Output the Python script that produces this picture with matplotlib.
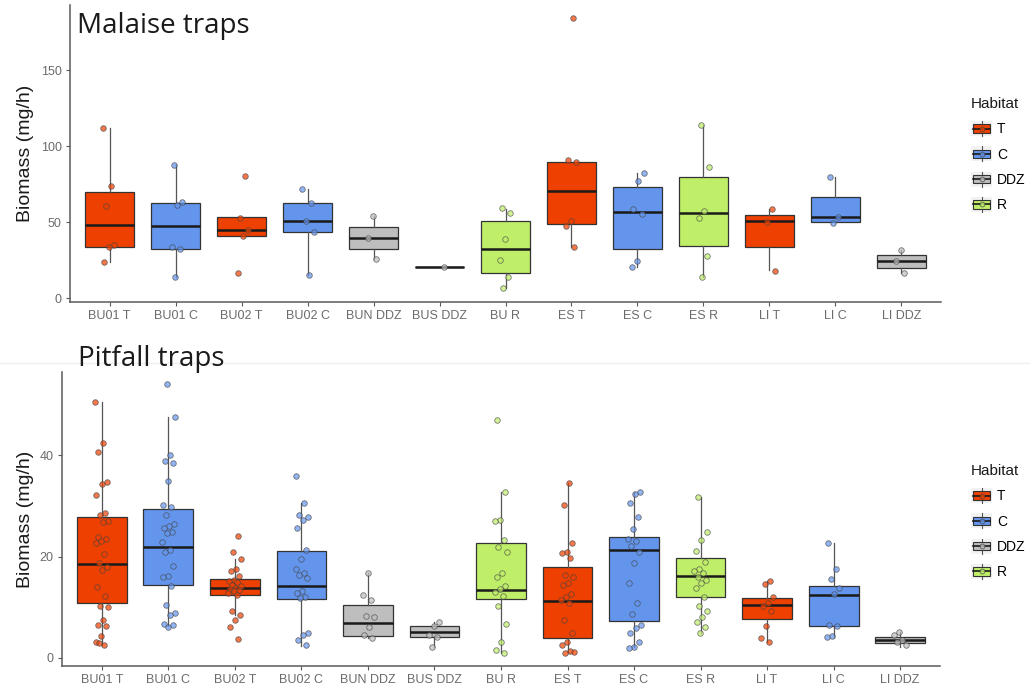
import matplotlib
matplotlib.use("Agg")
import matplotlib.pyplot as plt
import numpy as np
from matplotlib.patches import Rectangle, Patch
from matplotlib.lines import Line2D
from matplotlib.legend_handler import HandlerBase

sites = ["BU01 T", "BU01 C", "BU02 T", "BU02 C", "BUN DDZ", "BUS DDZ", "BU R",
         "ES T", "ES C", "ES R", "LI T", "LI C", "LI DDZ"]
habitat = ["T", "C", "T", "C", "DDZ", "DDZ", "R", "T", "C", "R", "T", "C", "DDZ"]
habitat_order = ["T", "C", "DDZ", "R"]
colors = {"T": "#EE4000", "C": "#6495ED", "DDZ": "#BEBEBE", "R": "#BFEF69"}

# Malaise traps: box stats
mal_q1 = [33.8, 32.0, 41.0, 43.6, 32.0, 20.6, 16.2, 48.7, 32.0, 34.2, 33.3, 50.2, 19.9]
mal_med = [48.0, 47.6, 44.5, 50.7, 39.7, 20.6, 32.2, 70.4, 56.8, 55.7, 50.9, 53.1, 24.3]
mal_q3 = [70.0, 62.7, 53.0, 62.7, 46.5, 20.6, 50.7, 89.3, 72.8, 79.4, 54.6, 66.2, 28.3]
mal_lo = [24.0, 14.0, 41.0, 15.0, 25.5, 20.6, 6.4, 33.8, 20.6, 14.0, 18.4, 50.2, 16.2]
mal_hi = [112.0, 87.5, 53.0, 72.0, 54.0, 20.6, 58.5, 89.7, 82.4, 113.8, 58.3, 79.4, 31.6]
mal_points = [
    [111.6, 73.7, 60.7, 34.9, 33.5, 23.9],
    [87.5, 63.4, 61.0, 33.3, 32.0, 14.0],
    [80.5, 52.9, 44.7, 41.0, 16.2],
    [72.0, 62.5, 50.7, 43.6, 15.0],
    [54.0, 39.7, 25.5],
    [20.6],
    [59.0, 55.7, 38.6, 25.0, 14.0, 6.4],
    [184.0, 90.5, 89.7, 50.7, 47.6, 33.3],
    [82.4, 77.0, 58.3, 55.0, 24.3, 20.6],
    [113.8, 86.4, 57.4, 52.4, 27.6, 14.0],
    [58.5, 50.2, 18.0],
    [79.8, 53.1, 49.5],
    [31.6, 24.3, 16.7],
]

# Pitfall traps
pit_q1 = [10.8, 14.3, 12.4, 11.6, 4.4, 4.2, 11.6, 3.9, 7.2, 12.0, 7.6, 6.2, 2.9]
pit_med = [18.5, 21.8, 13.7, 14.1, 6.8, 5.2, 13.3, 11.3, 21.3, 16.2, 10.4, 12.4, 3.5]
pit_q3 = [27.8, 29.3, 15.6, 21.1, 10.4, 6.2, 22.7, 17.9, 23.9, 19.8, 11.8, 14.1, 4.1]
pit_lo = [2.6, 6.2, 8.4, 2.4, 3.9, 2.1, 0.9, 0.9, 2.1, 5.0, 3.2, 4.2, 2.1]
pit_hi = [50.5, 47.5, 19.5, 30.6, 16.8, 7.0, 32.8, 34.5, 32.8, 31.8, 15.2, 22.7, 5.2]
pit_points = [
    [50.5, 42.4, 40.6, 34.7, 34.4, 32.1, 28.6, 28.1, 27.1, 26.9, 23.8, 23.4, 23.0, 22.6,
     20.5, 18.7, 17.9, 17.3, 14.0, 12.2, 10.3, 10.0, 7.5, 6.4, 6.2, 4.4, 3.2, 2.6, 3.0],
    [54.1, 47.5, 40.0, 38.9, 38.5, 34.9, 30.2, 29.8, 28.2, 26.5, 26.1, 25.7, 24.9, 24.7,
     22.8, 21.3, 20.8, 18.2, 16.2, 15.9, 14.1, 10.5, 8.9, 8.4, 6.6, 6.4, 6.1],
    [24.0, 20.8, 19.5, 17.5, 17.2, 16.1, 15.4, 15.2, 14.9, 14.4, 14.1, 13.8, 13.6, 13.3,
     13.1, 12.8, 12.5, 9.2, 8.4, 7.5, 6.0, 3.8],
    [35.9, 30.5, 28.2, 27.7, 27.2, 25.7, 21.3, 19.6, 17.5, 16.7, 16.4, 15.7, 13.1, 12.8,
     12.1, 11.8, 4.9, 4.6, 3.6, 2.6],
    [16.8, 12.4, 11.5, 8.3, 8.0, 6.1, 4.6, 3.9],
    [7.0, 6.2, 4.6, 4.2, 2.1],
    [47.0, 32.8, 27.3, 27.0, 23.2, 21.8, 20.9, 16.8, 15.9, 14.1, 13.6, 13.0, 12.3, 10.2,
     6.7, 3.2, 1.6, 0.9],
    [34.5, 30.2, 22.7, 20.9, 20.6, 19.8, 16.3, 15.9, 14.7, 14.4, 12.7, 12.1, 11.5, 10.8,
     7.4, 4.9, 3.2, 2.6, 1.3, 0.9, 1.1],
    [32.8, 32.3, 30.6, 27.7, 25.4, 23.5, 23.0, 22.0, 20.9, 18.7, 14.8, 10.8, 8.7, 6.4,
     5.9, 4.9, 3.2, 2.2, 1.9],
    [31.8, 24.9, 23.2, 21.1, 19.0, 17.6, 17.2, 16.7, 15.9, 15.4, 14.8, 13.8, 12.1, 10.2,
     9.2, 8.1, 7.0, 6.1, 5.0],
    [15.2, 14.6, 12.1, 10.8, 10.2, 9.2, 6.2, 3.9, 3.2],
    [22.7, 17.6, 15.5, 13.8, 12.7, 6.5, 6.2, 4.4, 4.2],
    [5.2, 4.6, 3.6, 3.2, 2.5],
]


class BoxKey(HandlerBase):
    def create_artists(self, legend, orig_handle, xdescent, ydescent,
                       width, height, fontsize, trans):
        col = orig_handle.get_facecolor()
        x0, y0 = -xdescent, -ydescent
        cx, cy = x0 + width / 2, y0 + height / 2
        bg = Rectangle((x0, y0), width, height, facecolor="#F2F2F2",
                       edgecolor="none", transform=trans)
        wh = Line2D([cx, cx], [y0, y0 + height], color="#555555", lw=0.8,
                    transform=trans)
        box = Rectangle((x0 + 0.1 * width, y0 + 0.22 * height), 0.8 * width,
                        0.56 * height, facecolor=col, edgecolor="#333333",
                        lw=0.8, transform=trans)
        med = Line2D([x0 + 0.1 * width, x0 + 0.9 * width], [cy, cy],
                     color="#1a1a1a", lw=1.2, transform=trans)
        pt = Line2D([cx], [cy], marker="o", ms=3.5, mfc=col, mec="#444444",
                    mew=0.6, alpha=0.8, transform=trans)
        return [bg, wh, box, med, pt]


def draw_panel(ax, q1, med, q3, lo, hi, points, ylim, yticks):
    stats = []
    for i in range(len(sites)):
        stats.append(dict(q1=q1[i], med=med[i], q3=q3[i], whislo=lo[i],
                          whishi=hi[i], fliers=[]))
    bp = ax.bxp(stats, positions=range(len(sites)), widths=0.75,
                patch_artist=True, showfliers=False, showcaps=False,
                boxprops=dict(edgecolor="#333333", linewidth=0.9),
                whiskerprops=dict(color="#555555", linewidth=0.9),
                medianprops=dict(color="#1a1a1a", linewidth=1.8))
    for patch, h in zip(bp["boxes"], habitat):
        patch.set_facecolor(colors[h])

    for i, vals in enumerate(points):
        k = np.arange(len(vals))
        off = ((k * 0.618034 + i * 0.37) % 1 - 0.5) * 0.2
        ax.scatter(i + off, vals, s=16, color=colors[habitat[i]], alpha=0.7,
                   edgecolors="#444444", linewidths=0.6, zorder=3)

    ax.set_xlim(-0.6, len(sites) - 0.4)
    ax.set_ylim(*ylim)
    ax.set_xticks(range(len(sites)))
    ax.set_xticklabels(sites)
    ax.set_yticks(yticks)
    for s in ["top", "right"]:
        ax.spines[s].set_visible(False)
    for s in ["left", "bottom"]:
        ax.spines[s].set_color("#5a5a5a")
        ax.spines[s].set_linewidth(1.1)
    ax.tick_params(colors="#5a5a5a", labelcolor="#6b6b6b", labelsize=9,
                   length=3, width=0.8, pad=3)
    ax.set_ylabel("Biomass (mg/h)", fontsize=14, color="#1a1a1a")

    handles = [Patch(facecolor=colors[h], label=h) for h in habitat_order]
    return handles


plt.rcParams["font.family"] = ["Liberation Sans", "DejaVu Sans"]
fig = plt.figure(figsize=(10.30, 6.92), dpi=100)

W, H = 1030, 692
ax1 = fig.add_axes([70 / W, 1 - 302 / H, 871 / W, 297 / H])
ax2 = fig.add_axes([62 / W, 1 - 666 / H, 878 / W, 294 / H])

h1 = draw_panel(ax1, mal_q1, mal_med, mal_q3, mal_lo, mal_hi, mal_points,
                (-2.6, 192.8), [0, 50, 100, 150])
h2 = draw_panel(ax2, pit_q1, pit_med, pit_q3, pit_lo, pit_hi, pit_points,
                (-1.6, 56.4), [0, 20, 40])
ax1.yaxis.set_label_coords(-0.041, 0.5)
ax2.yaxis.set_label_coords(-0.032, 0.5)

for handles, ytop in [(h1, 86), (h2, 453)]:
    leg = fig.legend(handles=handles, title="Habitat", loc="upper left",
                     bbox_to_anchor=(960 / W, 1 - ytop / H), frameon=False,
                     fontsize=10, title_fontsize=11, handler_map={Patch: BoxKey()},
                     handlelength=1.5, handleheight=1.3, labelspacing=0.72,
                     handletextpad=0.35, borderpad=0.3, alignment="left")
    leg.get_title().set_color("#1a1a1a")

# faint separator between the two pasted plots
fig.add_artist(Line2D([0, 1], [1 - 363 / H] * 2, color="#eeeeee", lw=1,
                      transform=fig.transFigure, zorder=0))

fig.text(77 / W, 1 - 33 / H, "Malaise traps", fontsize=20, family="Open Sans",
         color="#1a1a1a", va="baseline")
fig.text(78 / W, 1 - 366 / H, "Pitfall traps", fontsize=20, family="Open Sans",
         color="#1a1a1a", va="baseline")

fig.savefig("out.png", dpi=100)
